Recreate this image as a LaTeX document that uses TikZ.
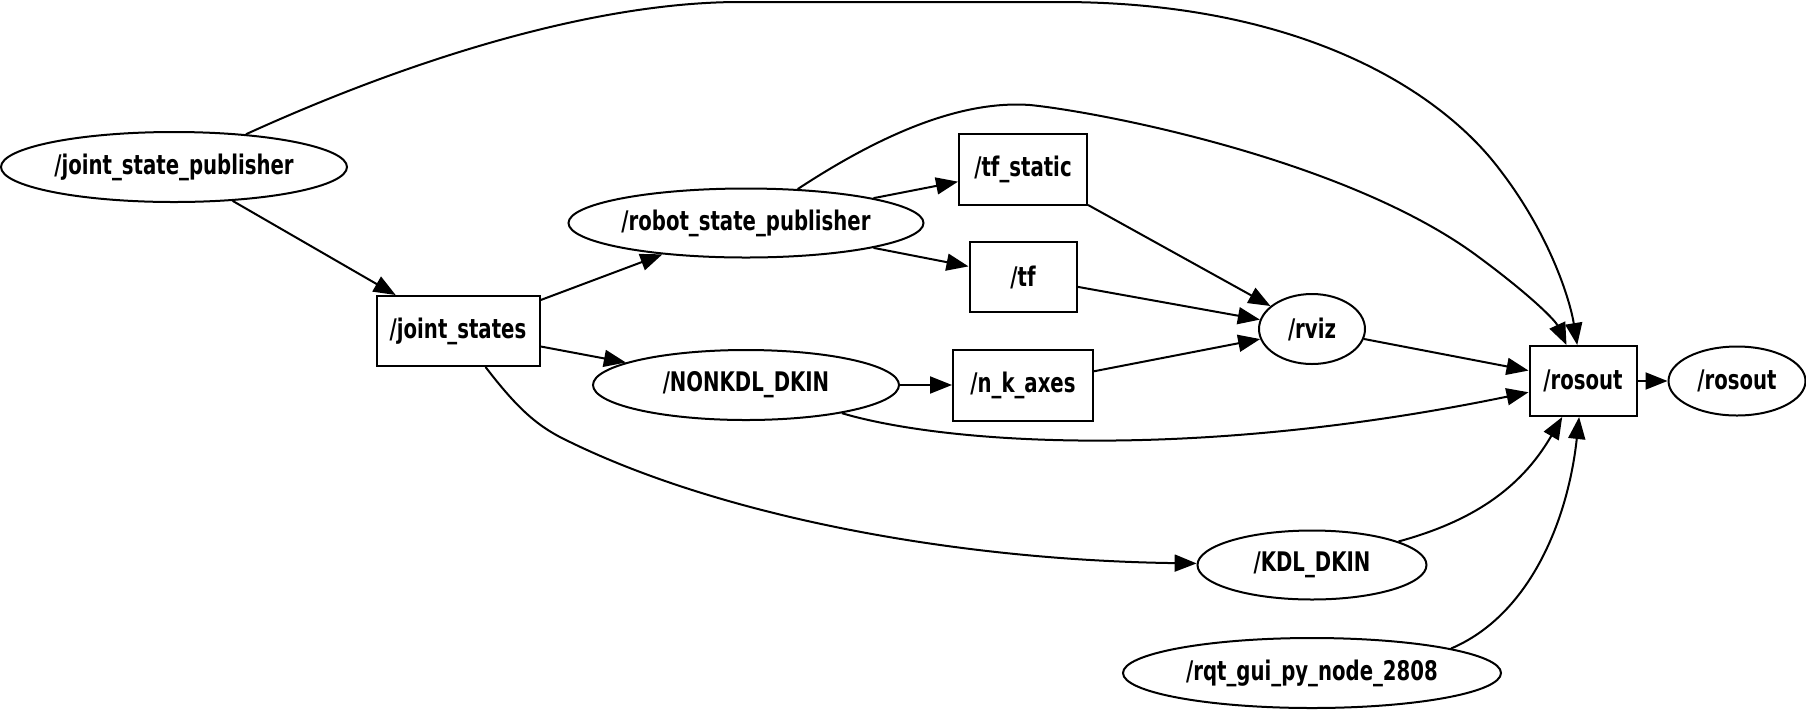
\documentclass[tikz,border=0pt]{standalone}
\usepackage{fontspec}
\setmainfont{DejaVu Sans}[FakeStretch=0.73]
\usetikzlibrary{shapes.geometric,arrows.meta}

\begin{document}
\begin{tikzpicture}[
  x=0.5pt, y=-0.5pt,
  line width=1pt,
  rosnode/.style={ellipse, draw, inner sep=0pt, font=\bfseries\fontsize{13.5}{16}\selectfont},
  topic/.style={rectangle, draw, inner sep=0pt, font=\bfseries\fontsize{13.5}{16}\selectfont},
  conn/.style={-{Triangle[length=11pt,width=8.5pt]}},
]
\useasboundingbox (0,0) rectangle (1806,709);
% nodes
\node[rosnode, minimum width=173pt, minimum height=35pt] (jsp) at (174,167) {/joint\_state\_publisher};
\node[topic, minimum width=81.5pt, minimum height=35pt] (jstates) at (458,331) {/joint\_states};
\node[rosnode, minimum width=177.5pt, minimum height=34.5pt] (rsp) at (746,223) {/robot\_state\_publisher};
\node[rosnode, minimum width=153pt, minimum height=35pt] (nonkdl) at (746,385) {/NONKDL\_DKIN};
\node[topic, minimum width=64pt, minimum height=35.5pt] (tfstatic) at (1023,169) {/tf\_static};
\node[topic, minimum width=53.5pt, minimum height=35pt] (tf) at (1023,277) {/tf};
\node[topic, minimum width=70pt, minimum height=35.5pt] (nkaxes) at (1023,385) {/n\_k\_axes};
\node[rosnode, minimum width=53pt, minimum height=35pt] (rviz) at (1312,329) {/rviz};
\node[topic, minimum width=53.5pt, minimum height=35pt] (rosouttopic) at (1583,381) {/rosout};
\node[rosnode, minimum width=68.5pt, minimum height=34.5pt] (rosoutnode) at (1737,381) {/rosout};
\node[rosnode, minimum width=114.5pt, minimum height=34.5pt] (kdl) at (1312,565) {/KDL\_DKIN};
\node[rosnode, minimum width=189pt, minimum height=35pt] (rqt) at (1312,673) {/rqt\_gui\_py\_node\_2808};
% straight connectors
\draw[conn] (jsp) -- (jstates);
\draw[conn] (jstates) -- (rsp);
\draw[conn] (jstates) -- (nonkdl);
\draw[conn] (rsp) -- (tfstatic);
\draw[conn] (rsp) -- (tf);
\draw[conn] (nonkdl) -- (nkaxes);
\draw[conn] (tfstatic) -- (rviz);
\draw[conn] (tf) -- (rviz);
\draw[conn] (nkaxes) -- (rviz);
\draw[conn] (rviz) -- (rosouttopic);
\draw[conn] (rosouttopic) -- (rosoutnode);
% curved connectors
\draw[conn] (jsp) .. controls (420,55) and (600,2) .. (740,2) -- (1060,2)
  .. controls (1300,2) and (1440,90) .. (1500,170)
  .. controls (1550,235) and (1570,300) .. (rosouttopic);
\draw[conn] (rsp) .. controls (880,135) and (960,100) .. (1030,105)
  .. controls (1100,112) and (1350,160) .. (1480,258)
  .. controls (1530,295) and (1555,320) .. (rosouttopic);
\draw[conn] (nonkdl) .. controls (950,445) and (1200,460) .. (rosouttopic);
\draw[conn] (jstates) .. controls (520,412) and (540,428) .. (570,442)
  .. controls (720,515) and (950,560) .. (kdl);
\draw[conn] (kdl) .. controls (1470,522) and (1520,490) .. (rosouttopic);
\draw[conn] (rqt.10) .. controls (1530,615) and (1568,520) .. (rosouttopic);
\end{tikzpicture}
\end{document}
